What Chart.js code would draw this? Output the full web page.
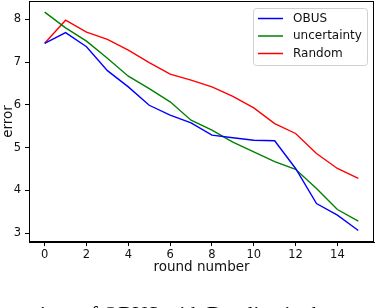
<!DOCTYPE html>
<html>
<head>
<meta charset="utf-8">
<script src="https://cdn.jsdelivr.net/npm/chart.js@4.4.0/dist/chart.umd.min.js"></script>
<style>
  body { margin: 0; background: #fff; }
  #wrap { width: 388px; height: 308px; }
</style>
</head>
<body>
<div id="wrap"><canvas id="errChart" width="388" height="308"></canvas></div>
<script>
// Data
const rounds = [0, 1, 2, 3, 4, 5, 6, 7, 8, 9, 10, 11, 12, 13, 14, 15];
const obus = [7.44, 7.69, 7.36, 6.80, 6.42, 5.99, 5.76, 5.58, 5.29, 5.23, 5.17, 5.16, 4.51, 3.69, 3.42, 3.06];
const uncertainty = [8.17, 7.80, 7.49, 7.09, 6.67, 6.38, 6.07, 5.64, 5.41, 5.13, 4.90, 4.67, 4.49, 4.04, 3.55, 3.28];
const randomSel = [7.44, 7.98, 7.70, 7.53, 7.28, 6.99, 6.72, 6.58, 6.42, 6.20, 5.93, 5.56, 5.33, 4.86, 4.51, 4.28];
const xTicks = [0, 2, 4, 6, 8, 10, 12, 14];
const yTicks = [3, 4, 5, 6, 7, 8];

const font = 'DejaVu Sans';

function series(vals) {
    return rounds.map((r, i) => ({ x: r, y: vals[i] }));
}

// full box around the axes (matplotlib style)
const frame = {
    id: 'frame',
    afterDraw(chart) {
        const a = chart.chartArea, ctx = chart.ctx;
        ctx.save();
        ctx.strokeStyle = '#000';
        ctx.lineWidth = 1;
        ctx.strokeRect(a.left + 0.5, a.top + 0.5, a.right - a.left - 1, a.bottom - a.top - 1);
        ctx.restore();
    }
};

// legend in the upper right corner of the plot
const boxLegend = {
    id: 'boxLegend',
    afterDatasetsDraw(chart) {
        const ctx = chart.ctx;
        const x0 = 253, y0 = 8, w = 114, h = 57;
        ctx.save();
        ctx.fillStyle = 'rgba(255,255,255,0.8)';
        ctx.strokeStyle = '#d0d0d0';
        ctx.lineWidth = 1;
        ctx.beginPath();
        ctx.roundRect(x0 + 0.5, y0 + 0.5, w, h, 3);
        ctx.fill();
        ctx.stroke();
        ctx.font = '12px "' + font + '"';
        ctx.textBaseline = 'middle';
        chart.data.datasets.forEach((ds, i) => {
            const y = y0 + 10.5 + i * 17.5;
            ctx.strokeStyle = ds.borderColor;
            ctx.lineWidth = 1.5;
            ctx.beginPath();
            ctx.moveTo(x0 + 5, y);
            ctx.lineTo(x0 + 30, y);
            ctx.stroke();
            ctx.fillStyle = '#111';
            ctx.fillText(ds.label, x0 + 40, y);
        });
        ctx.restore();
    }
};

// cut-off caption under the figure
const caption = {
    id: 'caption',
    afterDraw(chart) {
        const ctx = chart.ctx;
        ctx.save();
        ctx.font = '21px "Liberation Serif"';
        ctx.fillStyle = '#000';
        ctx.textBaseline = 'top';
        ctx.fillText('ison of OBUS with Baseline in the', 40, 305);
        ctx.restore();
    }
};

const ctxLine = document.getElementById('errChart').getContext('2d');
const errChart = new Chart(ctxLine, {
    type: 'line',
    data: {
        datasets: [
            { label: 'OBUS', data: series(obus), borderColor: '#0000ff', borderWidth: 1.4, pointRadius: 0, tension: 0 },
            { label: 'uncertainty', data: series(uncertainty), borderColor: '#008000', borderWidth: 1.4, pointRadius: 0, tension: 0 },
            { label: 'Random', data: series(randomSel), borderColor: '#ff0000', borderWidth: 1.4, pointRadius: 0, tension: 0 }
        ]
    },
    options: {
        responsive: false,
        devicePixelRatio: 1,
        animation: false,
        layout: { padding: { top: 1, right: 14, left: 0, bottom: 32 } },
        plugins: {
            legend: { display: false },
            tooltip: { enabled: false }
        },
        scales: {
            x: {
                type: 'linear',
                min: -0.75,
                max: 15.75,
                afterBuildTicks: s => { s.ticks = xTicks.map(v => ({ value: v })); },
                afterFit: s => { s.height = 34; s.paddingLeft = 0; s.paddingRight = 0; },
                ticks: { color: '#111', font: { family: font, size: 11.5 }, padding: 2, maxRotation: 0, autoSkip: false },
                grid: { drawOnChartArea: false, tickLength: 4, tickColor: '#000' },
                border: { color: '#000', width: 1 },
                title: { display: true, text: 'round number', color: '#111', font: { family: font, size: 13.5 }, padding: { top: 1, bottom: 0 } }
            },
            y: {
                min: 2.79,
                max: 8.43,
                afterBuildTicks: s => { s.ticks = yTicks.map(v => ({ value: v })); },
                afterFit: s => { s.width = 29; s.paddingTop = 0; s.paddingBottom = 0; },
                ticks: { color: '#111', font: { family: font, size: 11.5 }, padding: 4 },
                grid: { drawOnChartArea: false, tickLength: 4, tickColor: '#000' },
                border: { color: '#000', width: 1 },
                title: { display: true, text: 'error', color: '#111', font: { family: font, size: 13.5 }, padding: { top: 0, bottom: 0 } }
            }
        }
    },
    plugins: [frame, boxLegend, caption]
});
</script>
</body>
</html>
